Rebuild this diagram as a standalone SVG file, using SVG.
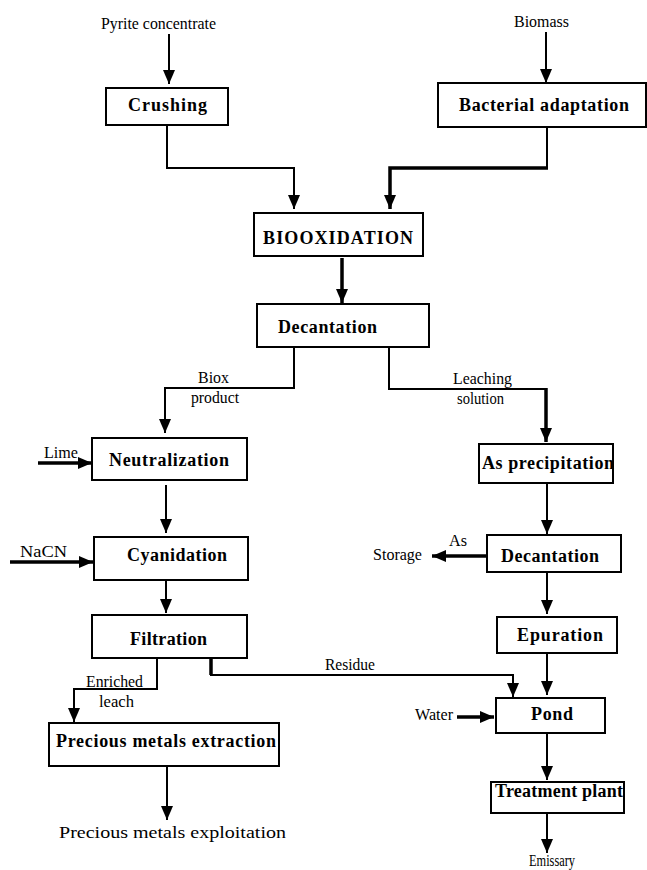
<svg xmlns="http://www.w3.org/2000/svg" width="647" height="870" viewBox="0 0 647 870">
<style>
.box{fill:#fff;stroke:#000;stroke-width:2}
.lb{font-family:"Liberation Serif","Times New Roman",serif;font-weight:bold;font-size:18px;fill:#000}
.t{font-family:"Liberation Serif","Times New Roman",serif;font-size:17px;fill:#000}
.c{fill:none;stroke:#000;stroke-width:2}
.k{fill:none;stroke:#000;stroke-width:3.5}
</style>
<defs>
<marker id="a" viewBox="0 0 14 12" markerWidth="14" markerHeight="12" refX="14" refY="6" orient="auto" markerUnits="userSpaceOnUse">
<path d="M0,0 L14,6 L0,12 z" fill="#000"/>
</marker>
</defs>
<rect width="647" height="870" fill="#fff"/>
<g id="connectors">
<path class="c" d="M169,34 V84" marker-end="url(#a)"/>
<path class="c" d="M546,32 V83" marker-end="url(#a)"/>
<path class="c" d="M167,125 V168 H294 V209" marker-end="url(#a)"/>
<path class="c" d="M547,127 V168"/>
<path class="k" d="M548,168 H390 V209" marker-end="url(#a)" stroke-width="4"/>
<path class="k" d="M342,258 V303" marker-end="url(#a)"/>
<path class="c" d="M294,347 V388 H165 V433" marker-end="url(#a)"/>
<path class="c" d="M389,347 V389 H546"/>
<path class="k" d="M546,388 V442" marker-end="url(#a)"/>
<path class="k" d="M38,463 H92" marker-end="url(#a)"/>
<path class="c" d="M166,485 V533" marker-end="url(#a)"/>
<path class="k" d="M10,562 H93" marker-end="url(#a)" stroke-width="3"/>
<path class="c" d="M166,580 V613" marker-end="url(#a)"/>
<path class="c" d="M157,658 V689 H74 V722" marker-end="url(#a)"/>
<path class="k" d="M211,658 V675"/>
<path class="c" d="M210,675 H513 V697" marker-end="url(#a)"/>
<path class="c" d="M167,766 V820" marker-end="url(#a)"/>
<path class="c" d="M547,483 V534" marker-end="url(#a)"/>
<path class="k" d="M487,556 H432" marker-end="url(#a)"/>
<path class="c" d="M547,572 V614" marker-end="url(#a)"/>
<path class="c" d="M547,654 V695" marker-end="url(#a)"/>
<path class="k" d="M457,717 H494" marker-end="url(#a)" stroke-width="4.5"/>
<path class="c" d="M547,733 V780" marker-end="url(#a)"/>
<path class="c" d="M547,813 V853" marker-end="url(#a)"/>
</g>
<g id="n-pyrite"><text class="t" x="101" y="29" textLength="115" lengthAdjust="spacingAndGlyphs">Pyrite concentrate</text></g>
<g id="n-biomass"><text class="t" x="514" y="27" textLength="55" lengthAdjust="spacingAndGlyphs">Biomass</text></g>
<g id="n-crushing"><rect class="box" x="106" y="88" width="122" height="37"/><text class="lb" x="128" y="111" textLength="79">Crushing</text></g>
<g id="n-bacterial"><rect class="box" x="438" y="83" width="208" height="44"/><text class="lb" x="459" y="111" textLength="170">Bacterial adaptation</text></g>
<g id="n-biooxidation"><rect class="box" x="254" y="213" width="169" height="43"/><text class="lb" x="263" y="244" textLength="150" font-size="17">BIOOXIDATION</text></g>
<g id="n-decantation1"><rect class="box" x="257" y="304" width="172" height="43"/><text class="lb" x="278" y="333" textLength="99">Decantation</text></g>
<g id="l-biox"><text class="t" x="198" y="383" textLength="31" lengthAdjust="spacingAndGlyphs">Biox</text><text class="t" x="191" y="403" textLength="48" lengthAdjust="spacingAndGlyphs">product</text></g>
<g id="l-leaching"><text class="t" x="453" y="384" textLength="59" lengthAdjust="spacingAndGlyphs">Leaching</text><text class="t" x="457" y="404" textLength="47" lengthAdjust="spacingAndGlyphs">solution</text></g>
<g id="n-lime"><text class="t" x="44" y="458" textLength="34" lengthAdjust="spacingAndGlyphs">Lime</text></g>
<g id="n-neutralization"><rect class="box" x="92" y="438" width="155" height="42"/><text class="lb" x="109" y="466" textLength="120">Neutralization</text></g>
<g id="n-nacn"><text class="t" x="20" y="557" textLength="47" lengthAdjust="spacingAndGlyphs">NaCN</text></g>
<g id="n-cyanidation"><rect class="box" x="94" y="537" width="154" height="43"/><text class="lb" x="127" y="561" textLength="100">Cyanidation</text></g>
<g id="n-asprecip"><rect class="box" x="479" y="444" width="134" height="39"/><text class="lb" x="482" y="469" textLength="132">As precipitation</text></g>
<g id="n-storage"><text class="t" x="449" y="546" textLength="18" lengthAdjust="spacingAndGlyphs">As</text><text class="t" x="373" y="560" textLength="49" lengthAdjust="spacingAndGlyphs">Storage</text></g>
<g id="n-decantation2"><rect class="box" x="487" y="535" width="134" height="37"/><text class="lb" x="501" y="562" textLength="98">Decantation</text></g>
<g id="n-filtration"><rect class="box" x="92" y="615" width="155" height="43"/><text class="lb" x="130" y="645" textLength="77">Filtration</text></g>
<g id="l-enriched"><text class="t" x="86" y="687" textLength="57" lengthAdjust="spacingAndGlyphs">Enriched</text><text class="t" x="99" y="707" textLength="35" lengthAdjust="spacingAndGlyphs">leach</text></g>
<g id="l-residue"><text class="t" x="325" y="670" textLength="50" lengthAdjust="spacingAndGlyphs">Residue</text></g>
<g id="n-epuration"><rect class="box" x="497" y="617" width="120" height="36" stroke-width="3"/><text class="lb" x="517" y="641" textLength="86">Epuration</text></g>
<g id="n-water"><text class="t" x="415" y="720" textLength="38" lengthAdjust="spacingAndGlyphs">Water</text></g>
<g id="n-pond"><rect class="box" x="496" y="698" width="109" height="35"/><text class="lb" x="531" y="720" textLength="42">Pond</text></g>
<g id="n-precious"><rect class="box" x="49" y="723" width="230" height="43"/><text class="lb" x="56" y="747" textLength="220">Precious metals extraction</text></g>
<g id="n-treatment"><rect class="box" x="491" y="782" width="133" height="31"/><text class="lb" x="495" y="797" textLength="128">Treatment plant</text></g>
<g id="n-exploitation"><text class="t" x="59" y="838" textLength="227" lengthAdjust="spacingAndGlyphs" font-size="21">Precious metals exploitation</text></g>
<g id="n-emissary"><text class="t" x="529" y="866" textLength="46" lengthAdjust="spacingAndGlyphs">Emissary</text></g>
</svg>
